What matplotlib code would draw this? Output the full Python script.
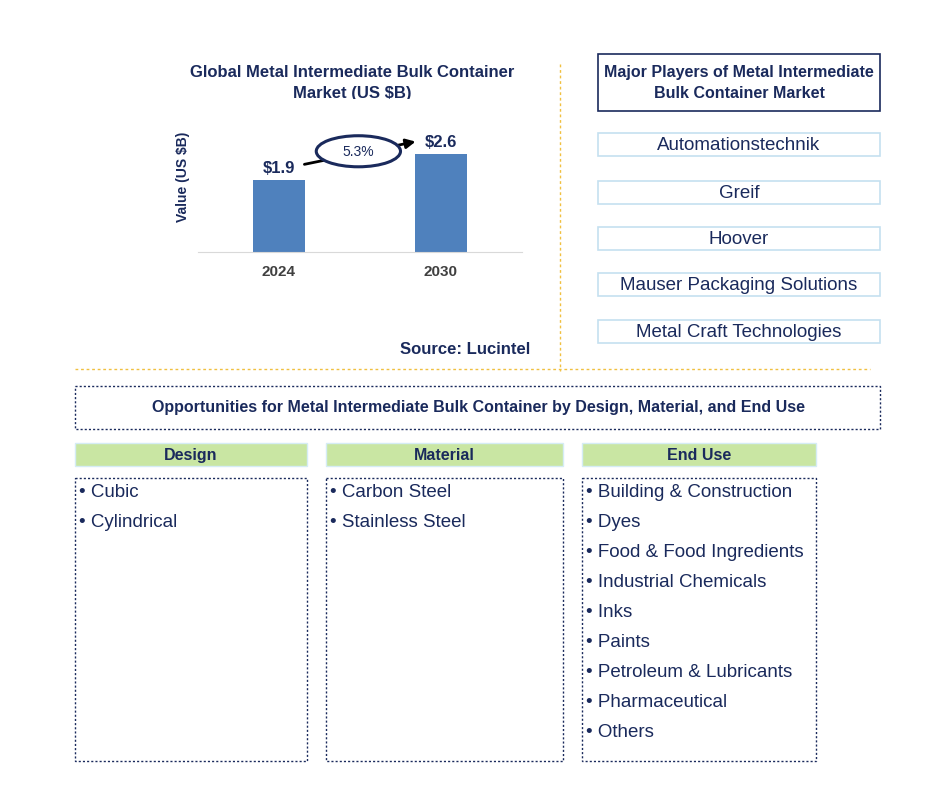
import matplotlib
matplotlib.use("Agg")
import matplotlib.pyplot as plt
from matplotlib.patches import Rectangle, Ellipse

years = ["2024", "2030"]
values = [1.9, 2.6]
value_labels = ["$1.9", "$2.6"]
cagr = "5.3%"
players = ["Automationstechnik", "Greif", "Hoover", "Mauser Packaging Solutions", "Metal Craft Technologies"]
segments = ["Design", "Material", "End Use"]
design_items = ["Cubic", "Cylindrical"]
material_items = ["Carbon Steel", "Stainless Steel"]
enduse_items = ["Building & Construction", "Dyes", "Food & Food Ingredients", "Industrial Chemicals",
                "Inks", "Paints", "Petroleum & Lubricants", "Pharmaceutical", "Others"]

plt.rcParams["font.family"] = "Liberation Sans"
W, H = 945, 803
NAVY = "#1a2a5c"
GOLD = "#f0c040"
fig = plt.figure(figsize=(W/100, H/100), dpi=100)
lay = fig.add_axes([0, 0, 1, 1])
lay.set_xlim(0, W); lay.set_ylim(H, 0); lay.axis("off")

def fx(x): return x / W
def fy(y): return 1 - y / H

# bar chart
L, R, T, B = 198, 522, 100, 253
ax = fig.add_axes([fx(L), fy(B), fx(R) - fx(L), fy(T) - fy(B)])
ax.bar(range(len(values)), values, width=0.315, color="#4f81bd")
ax.set_xlim(-0.5, 1.5); ax.set_ylim(0, 4.04)
for s in ["top", "right", "left"]:
    ax.spines[s].set_visible(False)
ax.spines["bottom"].set_color("#d9d9d9")
ax.set_yticks([])
ax.set_xticks(range(len(years)))
ax.set_xticklabels(years, fontsize=11, fontweight="bold", color="#404040")
ax.tick_params(axis="x", length=0, pad=9)
for i, (v, lab) in enumerate(zip(values, value_labels)):
    ax.text(i, v + 0.12, lab, ha="center", va="bottom", fontsize=12,
            fontweight="bold", color=NAVY)
ax.annotate("", xy=(0.86, 2.93), xytext=(0.14, 2.3), xycoords="data",
            arrowprops=dict(arrowstyle="-|>", color="black", lw=2, mutation_scale=14))
ax.add_patch(Ellipse((0.49, 2.66), 0.52, 0.82, facecolor="white", edgecolor=NAVY, lw=2.2, zorder=5))
ax.text(0.49, 2.66, cagr, ha="center", va="center", fontsize=10, color=NAVY, zorder=6)
ax.set_ylabel("Value (US $B)", fontsize=10, fontweight="bold", color=NAVY, labelpad=6)

lay.text(352, 83, "Global Metal Intermediate Bulk Container\nMarket (US $B)", ha="center", va="center",
         fontsize=12, fontweight="bold", color=NAVY, linespacing=1.45)
lay.text(530, 350, "Source: Lucintel", ha="right", va="center", fontsize=12, fontweight="bold", color=NAVY)

# separators
lay.plot([560, 560], [65, 372], color=GOLD, lw=1, ls=(0, (2, 2)))
lay.plot([75, 870], [370, 370], color=GOLD, lw=1, ls=(0, (2, 2)))

# players
lay.add_patch(Rectangle((598, 55), 282, 57, fill=False, edgecolor=NAVY, lw=1.2))
lay.text(739, 83, "Major Players of Metal Intermediate\nBulk Container Market", ha="center", va="center",
         fontsize=11.5, fontweight="bold", color=NAVY, linespacing=1.45)
for i, p in enumerate(players):
    yc = [145, 193, 239, 285, 332][i]
    lay.add_patch(Rectangle((598, yc - 11.5), 282, 23, fill=False, edgecolor="#c5e0f0", lw=1.2))
    lay.text(739, yc + 1, p, ha="center", va="center", fontsize=13.5, color=NAVY)

# opportunities
lay.add_patch(Rectangle((75, 387), 805, 43, fill=False, edgecolor=NAVY, lw=1, ls=(0, (1.5, 1.5))))
lay.text(478, 408, "Opportunities for Metal Intermediate Bulk Container by Design, Material, and End Use",
         ha="center", va="center", fontsize=11.5, fontweight="bold", color=NAVY)
cols = [(75, 307), (326, 563), (582, 816)]
lists = [design_items, material_items, enduse_items]
for (x0, x1), seg, items in zip(cols, segments, lists):
    lay.add_patch(Rectangle((x0, 444), x1 - x0, 23, facecolor="#c9e6a3", edgecolor="#d5ecf5", lw=1))
    lay.text((x0 + x1) / 2, 456, seg, ha="center", va="center", fontsize=11.5, fontweight="bold", color=NAVY)
    lay.add_patch(Rectangle((x0, 479), x1 - x0, 283, fill=False, edgecolor=NAVY, lw=1, ls=(0, (1.5, 1.5))))
    for j, it in enumerate(items):
        lay.text(x0 + 4, 493 + 30 * j, "• " + it, ha="left", va="center", fontsize=13.5, color=NAVY)

fig.savefig("out.png", dpi=100)
